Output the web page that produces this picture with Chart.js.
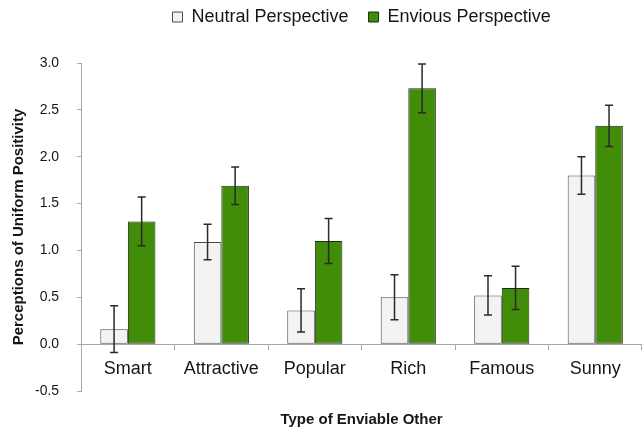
<!DOCTYPE html>
<html>
<head>
<meta charset="utf-8">
<script src="https://cdn.jsdelivr.net/npm/chart.js@4/dist/chart.umd.min.js"></script>
<style>
  html, body { margin: 0; padding: 0; background: #ffffff; }
  #wrap { width: 642px; height: 430px; position: relative; }
</style>
</head>
<body>
<div id="wrap"><canvas id="chart"></canvas></div>
<script>
// Categories and series (means with standard errors)
const categories = ['Smart', 'Attractive', 'Popular', 'Rich', 'Famous', 'Sunny'];
const neutralValues = [0.16, 1.09, 0.36, 0.50, 0.52, 1.80];
const neutralErrors = [0.25, 0.19, 0.23, 0.24, 0.21, 0.20];
const enviousValues = [1.31, 1.69, 1.10, 2.73, 0.60, 2.33];
const enviousErrors = [0.26, 0.20, 0.24, 0.26, 0.23, 0.22];
const seriesNames = ['Neutral Perspective', 'Envious Perspective'];
const yTicks = [-0.5, 0.0, 0.5, 1.0, 1.5, 2.0, 2.5, 3.0];

const FONT = '"Liberation Sans", Arial, Helvetica, sans-serif';
const TEXT = '#161616';
const AXIS = '#a8a8a8';

// Draws +/- error whiskers on top of each bar, through the value scale
const errorBars = {
  id: 'errorBars',
  afterDatasetsDraw(chart) {
    const ctx = chart.ctx;
    const yScale = chart.scales.y;
    chart.data.datasets.forEach((ds, di) => {
      const meta = chart.getDatasetMeta(di);
      if (meta.hidden) return;
      meta.data.forEach((bar, i) => {
        const v = ds.data[i];
        const e = ds.errors[i];
        const yHi = yScale.getPixelForValue(v + e);
        const yLo = yScale.getPixelForValue(v - e);
        const x = bar.x;
        const cap = 4;
        ctx.save();
        ctx.strokeStyle = '#2a2a2a';
        ctx.lineWidth = 1.5;
        ctx.beginPath();
        ctx.moveTo(x, yHi); ctx.lineTo(x, yLo);
        ctx.moveTo(x - cap, yHi); ctx.lineTo(x + cap, yHi);
        ctx.moveTo(x - cap, yLo); ctx.lineTo(x + cap, yLo);
        ctx.stroke();
        ctx.restore();
      });
    });
  }
};

// Leaves room between the legend row and the plot
const legendSpacer = {
  id: 'legendSpacer',
  beforeLayout(chart) {
    const lg = chart.legend;
    if (lg && !lg._spaced) {
      const fit = lg.fit;
      lg.fit = function () { fit.call(this); this.height += 27; };
      lg._spaced = true;
    }
  }
};

new Chart(document.getElementById('chart'), {
  type: 'bar',
  data: {
    labels: categories,
    datasets: [
      {
        label: seriesNames[0],
        data: neutralValues,
        errors: neutralErrors,
        backgroundColor: '#f3f3f3',
        borderColor: '#4a4a4a',
        borderWidth: 1,
        borderSkipped: false
      },
      {
        label: seriesNames[1],
        data: enviousValues,
        errors: enviousErrors,
        backgroundColor: '#418c08',
        borderColor: '#1d2a12',
        borderWidth: 1,
        borderSkipped: false
      }
    ]
  },
  options: {
    responsive: true,
    maintainAspectRatio: false,
    animation: false,
    devicePixelRatio: 1,
    datasets: {
      bar: { categoryPercentage: 0.59, barPercentage: 1.0 }
    },
    layout: { padding: { top: -12, left: 5, right: -3, bottom: 0 } },
    scales: {
      x: {
        type: 'category',
        position: { y: 0 },
        afterFit(scale) { scale.height = 0; },
        border: { display: true, color: AXIS, width: 1 },
        grid: { display: true, drawOnChartArea: false, drawTicks: true, tickLength: 5, color: AXIS, offset: true },
        ticks: {
          color: TEXT,
          font: { family: FONT, size: 18 },
          padding: 9,
          autoSkip: false,
          maxRotation: 0
        }
      },
      y: {
        position: 'left',
        min: -0.5,
        max: 3.0,
        afterBuildTicks(scale) { scale.ticks = yTicks.map(v => ({ value: v })); },
        // tick padding is only needed once between labels and axis
        afterFit(scale) { scale.width -= scale.options.ticks.padding; },
        border: { display: true, color: AXIS, width: 1 },
        grid: { display: true, drawOnChartArea: false, drawTicks: true, tickLength: 4, color: AXIS },
        ticks: {
          color: TEXT,
          font: { family: FONT, size: 14 },
          padding: 18,
          callback: (v) => Number(v).toFixed(1)
        },
        title: {
          display: true,
          text: 'Perceptions of Uniform Positivity',
          color: TEXT,
          font: { family: FONT, size: 15, weight: 'bold' },
          padding: { top: 5, bottom: 7 }
        }
      }
    },
    plugins: {
      legend: {
        display: true,
        position: 'top',
        fullSize: false,
        labels: {
          color: TEXT,
          font: { family: FONT, size: 18 },
          boxWidth: 10,
          boxHeight: 10,
          padding: 20
        }
      },
      title: {
        display: true,
        position: 'bottom',
        fullSize: false,
        text: 'Type of Enviable Other',
        color: TEXT,
        font: { family: FONT, size: 15, weight: 'bold' },
        padding: { top: 20, bottom: 1 }
      },
      tooltip: { enabled: false }
    }
  },
  plugins: [errorBars, legendSpacer]
});
</script>
</body>
</html>
